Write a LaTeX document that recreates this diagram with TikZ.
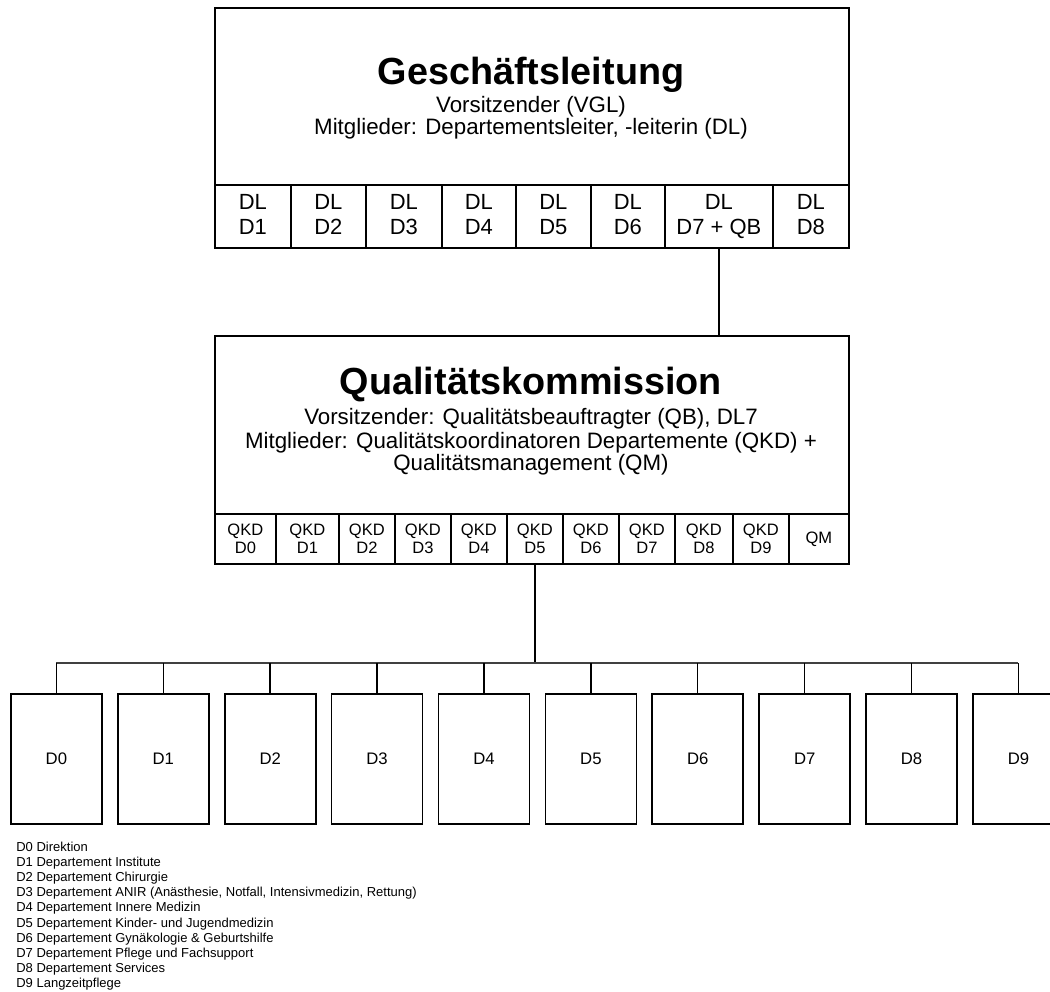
\documentclass[tikz,border=0pt]{standalone}
\usepackage{fontspec}
\setmainfont{Liberation Sans}
\usetikzlibrary{positioning}

\tikzset{
  wd/.style={minimum width={(#1)*0.02cm}},
  ht/.style={minimum height={(#1)*0.02cm}},
  org/.style={draw, line width=1pt, anchor=north west, inner sep=0pt, align=center},
  dlcell/.style={org, ht=63, font=\fontsize{12.5}{14.2}\selectfont},
  qkdcell/.style={org, ht=50, font=\fontsize{9.4}{10.2}\selectfont},
  dbox/.style={org, wd=91, ht=130, font=\fontsize{9.5}{11}\selectfont},
  headline/.style={anchor=base, inner sep=0pt, font=\fontsize{21.5}{24}\selectfont\bfseries},
  subline/.style={anchor=base, inner sep=0pt, font=\fontsize{12.7}{13}\selectfont},
  link/.style={line width=0.8pt},
  legend/.style={anchor=base west, inner sep=0pt, font=\fontsize{7.4}{8.6}\selectfont}
}

\begin{document}
\begin{tikzpicture}[x=0.02cm, y=-0.02cm]
\useasboundingbox (0,0) rectangle (1050,991);

% Geschaeftsleitung
\node[org, wd=634, ht=177] (gl) at (214,7) {};
\node[headline] (gltitle) at (531,84) {Geschäftsleitung};
\node[subline] (glvors) at (531,112) {Vorsitzender (VGL)};
\node[subline] (glmitgl) at (531,134) {Mitglieder: Departementsleiter, -leiterin (DL)};
\foreach \xa/\xb/\t [count=\i] in {214/290/D1, 290/365/D2, 365/441/D3, 441/515/D4,
    515/590/D5, 590/664/D6, 664/772/D7 + QB, 772/848/D8}
  \node[dlcell, wd=\xb-\xa] (dl\i) at (\xa,184) {DL\\\t\vphantom{Q}};

% Qualitaetskommission
\node[org, wd=634, ht=178] (qk) at (214,335) {};
\node[headline] (qktitle) at (531,394) {Qualitätskommission};
\node[subline] (qkvors) at (531,424) {Vorsitzender: Qualitätsbeauftragter (QB), DL7};
\node[subline] (qkmitgl) at (531,448) {Mitglieder: Qualitätskoordinatoren Departemente (QKD) +};
\node[subline] (qkqm) at (531,470) {Qualitätsmanagement (QM)};
\foreach \xa/\xb/\t [count=\i from 0] in {214/275/D0, 275/338/D1, 338/394/D2, 394/450/D3,
    450/506/D4, 506/562/D5, 562/618/D6, 618/674/D7, 674/732/D8, 732/788/D9}
  \node[qkdcell, wd=\xb-\xa] (qkd\i) at (\xa,513) {QKD\\\t};
\node[qkdcell, wd=60] (qm) at (788,513) {QM};

% Departemente
\foreach \i in {0,...,9}
  \node[dbox] (d\i) at ({10+106.9*\i},693) {D\i};

\coordinate (bus) at (0,663);
\draw[link] (dl7.south) -- (dl7.south |- qk.north);
\draw[link] (qkd5.south) -- (qkd5.south |- bus);
\draw[link, black!75] (d0.north |- bus) -- (d9.north |- bus);
\foreach \i in {0,...,9}
  \draw[link] (d\i.north) -- (d\i.north |- bus);

% Legende
\foreach \t [count=\i from 0] in {D0 Direktion, D1 Departement Institute,
    D2 Departement Chirurgie,
    {D3 Departement ANIR (Anästhesie, Notfall, Intensivmedizin, Rettung)},
    D4 Departement Innere Medizin, D5 Departement Kinder- und Jugendmedizin,
    D6 Departement Gynäkologie \& Geburtshilfe, D7 Departement Pflege und Fachsupport,
    D8 Departement Services, D9 Langzeitpflege}
  \node[legend] (leg\i) at (16,{851.5+15.1*\i}) {\t};
\end{tikzpicture}
\end{document}
